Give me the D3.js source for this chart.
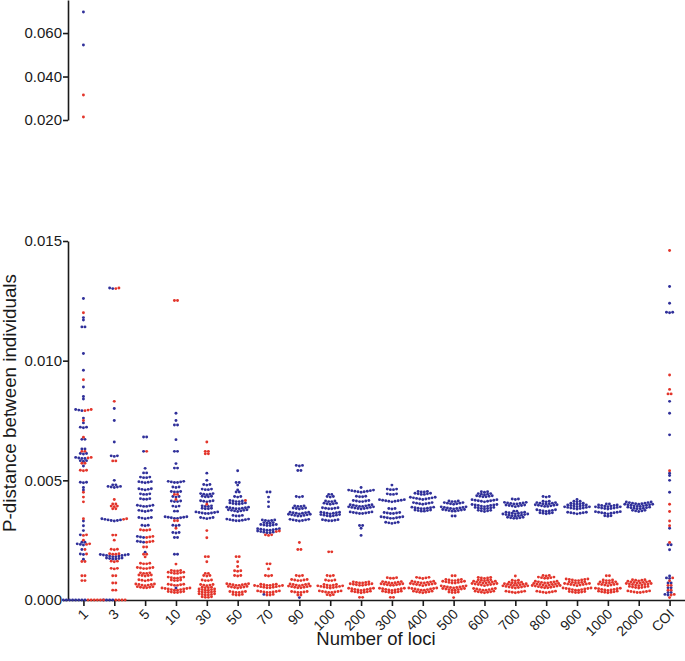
<!DOCTYPE html>
<html>
<head>
<meta charset="utf-8">
<script src="https://cdn.jsdelivr.net/npm/d3@7"></script>
<style>
  body { margin: 0; background: #fff; }
  text { font-family: "Liberation Sans", Arial, sans-serif; fill: #1a1a1a; }
</style>
</head>
<body>
<svg id="chart" width="685" height="661"></svg>
<script>
// columns on the x axis
var categories = ["1", "3", "5", "10", "30", "50", "70", "90", "100", "200", "300",
    "400", "500", "600", "700", "800", "900", "1000", "2000", "COI"];

// each row is [p-distance, number of dots at that level]
var b1 = [[.0126,1],[.0118,1],[.0117,1],[.0114,2],[.0103,1],[.0096,1],[.0089,1],[.0085,1],[.0084,1],
    [.0079,3],[.0076,1],[.0074,1],[.0072,3],[.0067,2],[.0063,2],[.0061,3],[.0059,4],[.0058,3],[.0056,1],
    [.0049,3],[.0047,1],[.0046,1],[.0033,1],[.0031,1],[.0029,1],[.0027,1],[.0024,2],[.0023,3],[.0021,1],
    [.0019,2],[.0017,1],[0,8]];
var r1 = [[.0120,1],[.0092,1],[.0079,3],[.0075,1],[.0068,1],[.0062,2],[.0059,2],[.0057,2],[.0054,3],
    [.0045,1],[.0043,1],[.0041,1],[.0034,1],[.0027,2],[.0025,1],[.0023,2],[.0021,1],[.0019,1],[.0016,2],
    [.0010,2],[.0008,2],[0,6]];
var b3 = [[.0130,2],[.0080,1],[.0075,1],[.0066,1],[.0060,3],[.0050,1],[.0048,2],[.0047,5],[.0033,7],
    [.0018,10],[.0017,6],[0,4]];
var r3 = [[.0130,2],[.0083,1],[.0058,2],[.0042,1],[.0040,2],[.0039,3],[.0038,2],[.0033,2],[.0027,2],
    [.0025,1],[.0021,3],[.0019,4],[.0016,3],[.0013,3],[.0010,2],[.0007,2],[.0004,2],[0,4]];
var b5 = [[.0068,2],[.0062,1],[.0055,1],[.0053,2],[.0051,4],[.0049,5],[.0046,5],[.0044,4],[.0042,4],
    [.0039,6],[.0037,5],[.0034,5],[.0031,3],[.0026,3],[.0024,3],[.0020,1]];
var r5 = [[.0062,1],[.0029,4],[.0026,3],[.0024,3],[.0022,2],[.0019,2],[.0018,1],[.0015,4],[.0013,6],
    [.0011,4],[.0010,5],[.0008,5],[.0006,7],[.0005,6]];
var b10 = [[.0078,1],[.0075,1],[.0073,2],[.0067,1],[.0062,2],[.0057,1],[.0055,2],[.0049,6],[.0047,3],
    [.0045,4],[.0043,3],[.0041,4],[.0039,3],[.0037,2],[.0034,8],[.0031,3],[.0028,3],[.0026,2],[.0019,2],
    [.0005,1]];
var r10 = [[.0125,2],[.0044,2],[.0042,1],[.0033,2],[.0030,1],[.0015,1],[.0012,4],[.0011,6],[.0009,6],
    [.0008,4],[.0006,6],[.0004,10],[.0003,6]];
var b30 = [[.0053,1],[.0050,1],[.0048,3],[.0046,4],[.0044,5],[.0043,4],[.0041,5],[.0039,4],[.0038,4],
    [.0036,8],[.0034,5]];
var r30 = [[.0066,1],[.0062,2],[.0061,2],[.0040,1],[.0029,1],[.0026,1],[.0018,2],[.0016,1],[.0011,2],
    [.0010,3],[.0008,4],[.0006,5],[.0005,4],[.0004,6],[.0003,6],[.0002,6],[.0001,4]];
var b50 = [[.0054,1],[.0049,2],[.0048,1],[.0046,1],[.0045,2],[.0043,3],[.0041,5],[.0040,6],[.0038,8],
    [.0037,7],[.0035,4],[.0033,8]];
var r50 = [[.0041,1],[.0018,2],[.0016,1],[.0014,1],[.0012,3],[.0010,3],[.0006,8],[.0005,7],[.0003,6],
    [.0002,4]];
var b70 = [[.0045,2],[.0043,1],[.0041,1],[.0039,1],[.0033,5],[.0032,4],[.0031,6],[.0029,8],[.0028,6],
    [.0002,1]];
var r70 = [[.0028,2],[.0027,3],[.0015,2],[.0013,1],[.0010,3],[.0006,6],[.0005,10],[.0003,8],[.0002,3]];
var b90 = [[.0056,3],[.0054,2],[.0043,3],[.0039,4],[.0038,5],[.0036,7],[.0035,8],[.0033,7],[.0001,1]];
var r90 = [[.0024,1],[.0021,2],[.0010,3],[.0008,6],[.0006,7],[.0005,8],[.0003,6],[.0002,2]];
var b100 = [[.0044,2],[.0043,3],[.0041,4],[.0040,5],[.0038,6],[.0036,7],[.0035,7],[.0033,6]];
var r100 = [[.0020,2],[.0010,3],[.0008,4],[.0006,5],[.0005,9],[.0003,8],[.0002,3]];
var b200 = [[.0047,1],[.0045,9],[.0043,4],[.0041,6],[.0039,8],[.0038,9],[.0036,8],[.0031,2],[.0030,1],
    [.0027,1]];
var r200 = [[.0007,6],[.0006,8],[.0004,9],[.0003,7],[.0001,2]];
var b300 = [[.0048,1],[.0046,4],[.0044,4],[.0041,9],[.0038,3],[.0036,6],[.0034,8],[.0032,5]];
var r300 = [[.0009,4],[.0007,7],[.0006,8],[.0004,9],[.0003,7],[.0001,2]];
var b400 = [[.0045,4],[.0044,6],[.0042,9],[.0040,7],[.0038,8],[.0037,6]];
var r400 = [[.0009,5],[.0007,8],[.0006,9],[.0004,10],[.0003,7]];
var b500 = [[.0041,4],[.0040,7],[.0038,9],[.0037,8],[.0035,2]];
var r500 = [[.0010,2],[.0008,6],[.0007,8],[.0005,9],[.0004,8],[.0003,4],[.0001,1]];
var b600 = [[.0045,3],[.0044,5],[.0043,6],[.0041,9],[.0039,9],[.0038,7],[.0037,5]];
var r600 = [[.0009,5],[.0008,5],[.0007,8],[.0006,9],[.0004,8],[.0003,7]];
var b700 = [[.0042,3],[.0040,8],[.0039,7],[.0037,2],[.0036,7],[.0035,9],[.0034,6]];
var r700 = [[.0010,1],[.0008,3],[.0007,5],[.0006,8],[.0005,9],[.0003,7]];
var b800 = [[.0043,3],[.0041,3],[.0040,7],[.0039,8],[.0037,7],[.0036,5]];
var r800 = [[.0010,3],[.0009,6],[.0007,8],[.0006,9],[.0005,10],[.0003,7]];
var b900 = [[.0042,1],[.0041,3],[.0040,5],[.0039,7],[.0038,9],[.0036,7]];
var r900 = [[.0008,8],[.0007,6],[.0006,9],[.0004,10],[.0003,6]];
var b1000 = [[.0040,2],[.0039,7],[.0038,9],[.0036,9],[.0035,3]];
var r1000 = [[.0010,2],[.0008,4],[.0007,6],[.0006,7],[.0004,9],[.0003,7]];
var b2000 = [[.0040,9],[.0039,10],[.0038,8],[.0037,5]];
var r2000 = [[.0008,5],[.0007,8],[.0006,9],[.0005,7],[.0003,8]];
var bCOI = [[.0131,1],[.0124,1],[.0120,3],[.0083,1],[.0078,1],[.0069,1],[.0053,1],[.0052,1],[.0050,1],
    [.0045,1],[.0030,1],[.0023,2],[.0021,1],[.0010,1],[.0009,2],[.0007,2],[.0005,2],[.0003,2],[.0002,2]];
var rCOI = [[.0146,1],[.0094,1],[.0088,1],[.0086,2],[.0054,1],[.0040,1],[.0037,1],[.0033,1],[.0031,1],
    [.0024,1],[.0009,1],[.0008,1],[.0006,2],[.0004,2],[.0002,2],[.0001,1]];

// the few large values of column "1", shown on the upper broken axis
var topBlue = [.0697, .0545];
var topRed = [.0315, .0214];

var blueRows = [b1, b3, b5, b10, b30, b50, b70, b90, b100, b200, b300, b400, b500, b600, b700,
    b800, b900, b1000, b2000, bCOI];
var redRows = [r1, r3, r5, r10, r30, r50, r70, r90, r100, r200, r300, r400, r500, r600, r700,
    r800, r900, r1000, r2000, rCOI];

var BLUE = "#30309a", RED = "#e3352b";

var svg = d3.select("#chart");

var x = d3.scalePoint().domain(categories).range([68, 685]).padding(0.5);
var yLow = d3.scaleLinear().domain([0, 0.015]).range([600, 241]);
var yTop = d3.scaleLinear().domain([0.02, 0.0752]).range([120, 0]);

// axes
var fmt = d3.format(".3f");
var gyl = svg.append("g").attr("transform", "translate(68,0)")
    .call(d3.axisLeft(yLow).tickValues([0, .005, .010, .015]).tickFormat(fmt).tickSize(5).tickSizeOuter(0));
var gyt = svg.append("g").attr("transform", "translate(68,0)")
    .call(d3.axisLeft(yTop).tickValues([.02, .04, .06]).tickFormat(fmt).tickSize(5).tickSizeOuter(0));
var gx = svg.append("g").attr("transform", "translate(0,600)")
    .call(d3.axisBottom(x).tickSize(6).tickSizeOuter(0));

[gyl, gyt, gx].forEach(function (g) {
    g.selectAll("path, line").attr("stroke", "#1a1a1a").attr("stroke-width", 1.6);
    g.selectAll("text").attr("fill", "#1a1a1a");
});
gyl.selectAll("text").attr("x", -6).style("font-size", "15px");
gyt.selectAll("text").attr("x", -6).style("font-size", "15px");

gx.selectAll(".tick text")
    .attr("text-anchor", "end")
    .attr("dy", null)
    .attr("y", 0)
    .attr("x", 0)
    .attr("transform", "translate(5,15) rotate(-45)")
    .style("font-size", "14px");

svg.append("text")
    .attr("x", 376).attr("y", 645)
    .attr("text-anchor", "middle")
    .style("font-size", "18.5px")
    .text("Number of loci");

svg.append("text")
    .attr("transform", "translate(16,403) rotate(-90)")
    .attr("text-anchor", "middle")
    .style("font-size", "18.8px")
    .text("P-distance between individuals");

// build swarm rows: all dots of one column that share a value sit side by side
var step = 3.1, tilt = 0.55, r = 1.45;
var dots = [];
categories.forEach(function (c, i) {
    var rows = d3.rollup(
        [].concat(
            blueRows[i].map(function (d) { return { v: d[0], n: d[1], color: BLUE }; }),
            redRows[i].map(function (d) { return { v: d[0], n: d[1], color: RED }; })
        ),
        function (list) { return list; },
        function (d) { return d.v; }
    );
    rows.forEach(function (list, v) {
        var colors = [];
        list.forEach(function (d) { for (var k = 0; k < d.n; k++) colors.push(d.color); });
        var n = colors.length;
        colors.forEach(function (col, k) {
            var off = k - (n - 1) / 2;
            dots.push({
                cx: x(c) + off * step,
                cy: yLow(v) - (v > 0 ? Math.abs(off) * tilt : 0),
                color: col
            });
        });
    });
});

// upper panel dots
topBlue.forEach(function (v) { dots.push({ cx: x("1"), cy: yTop(v), color: BLUE }); });
topRed.forEach(function (v) { dots.push({ cx: x("1"), cy: yTop(v), color: RED }); });

// blue underneath, red on top
dots.sort(function (a, b) { return (a.color === RED) - (b.color === RED); });

svg.append("g").selectAll("circle")
    .data(dots)
    .enter().append("circle")
    .attr("cx", function (d) { return d.cx; })
    .attr("cy", function (d) { return d.cy; })
    .attr("r", r)
    .attr("fill", function (d) { return d.color; });
</script>
</body>
</html>
